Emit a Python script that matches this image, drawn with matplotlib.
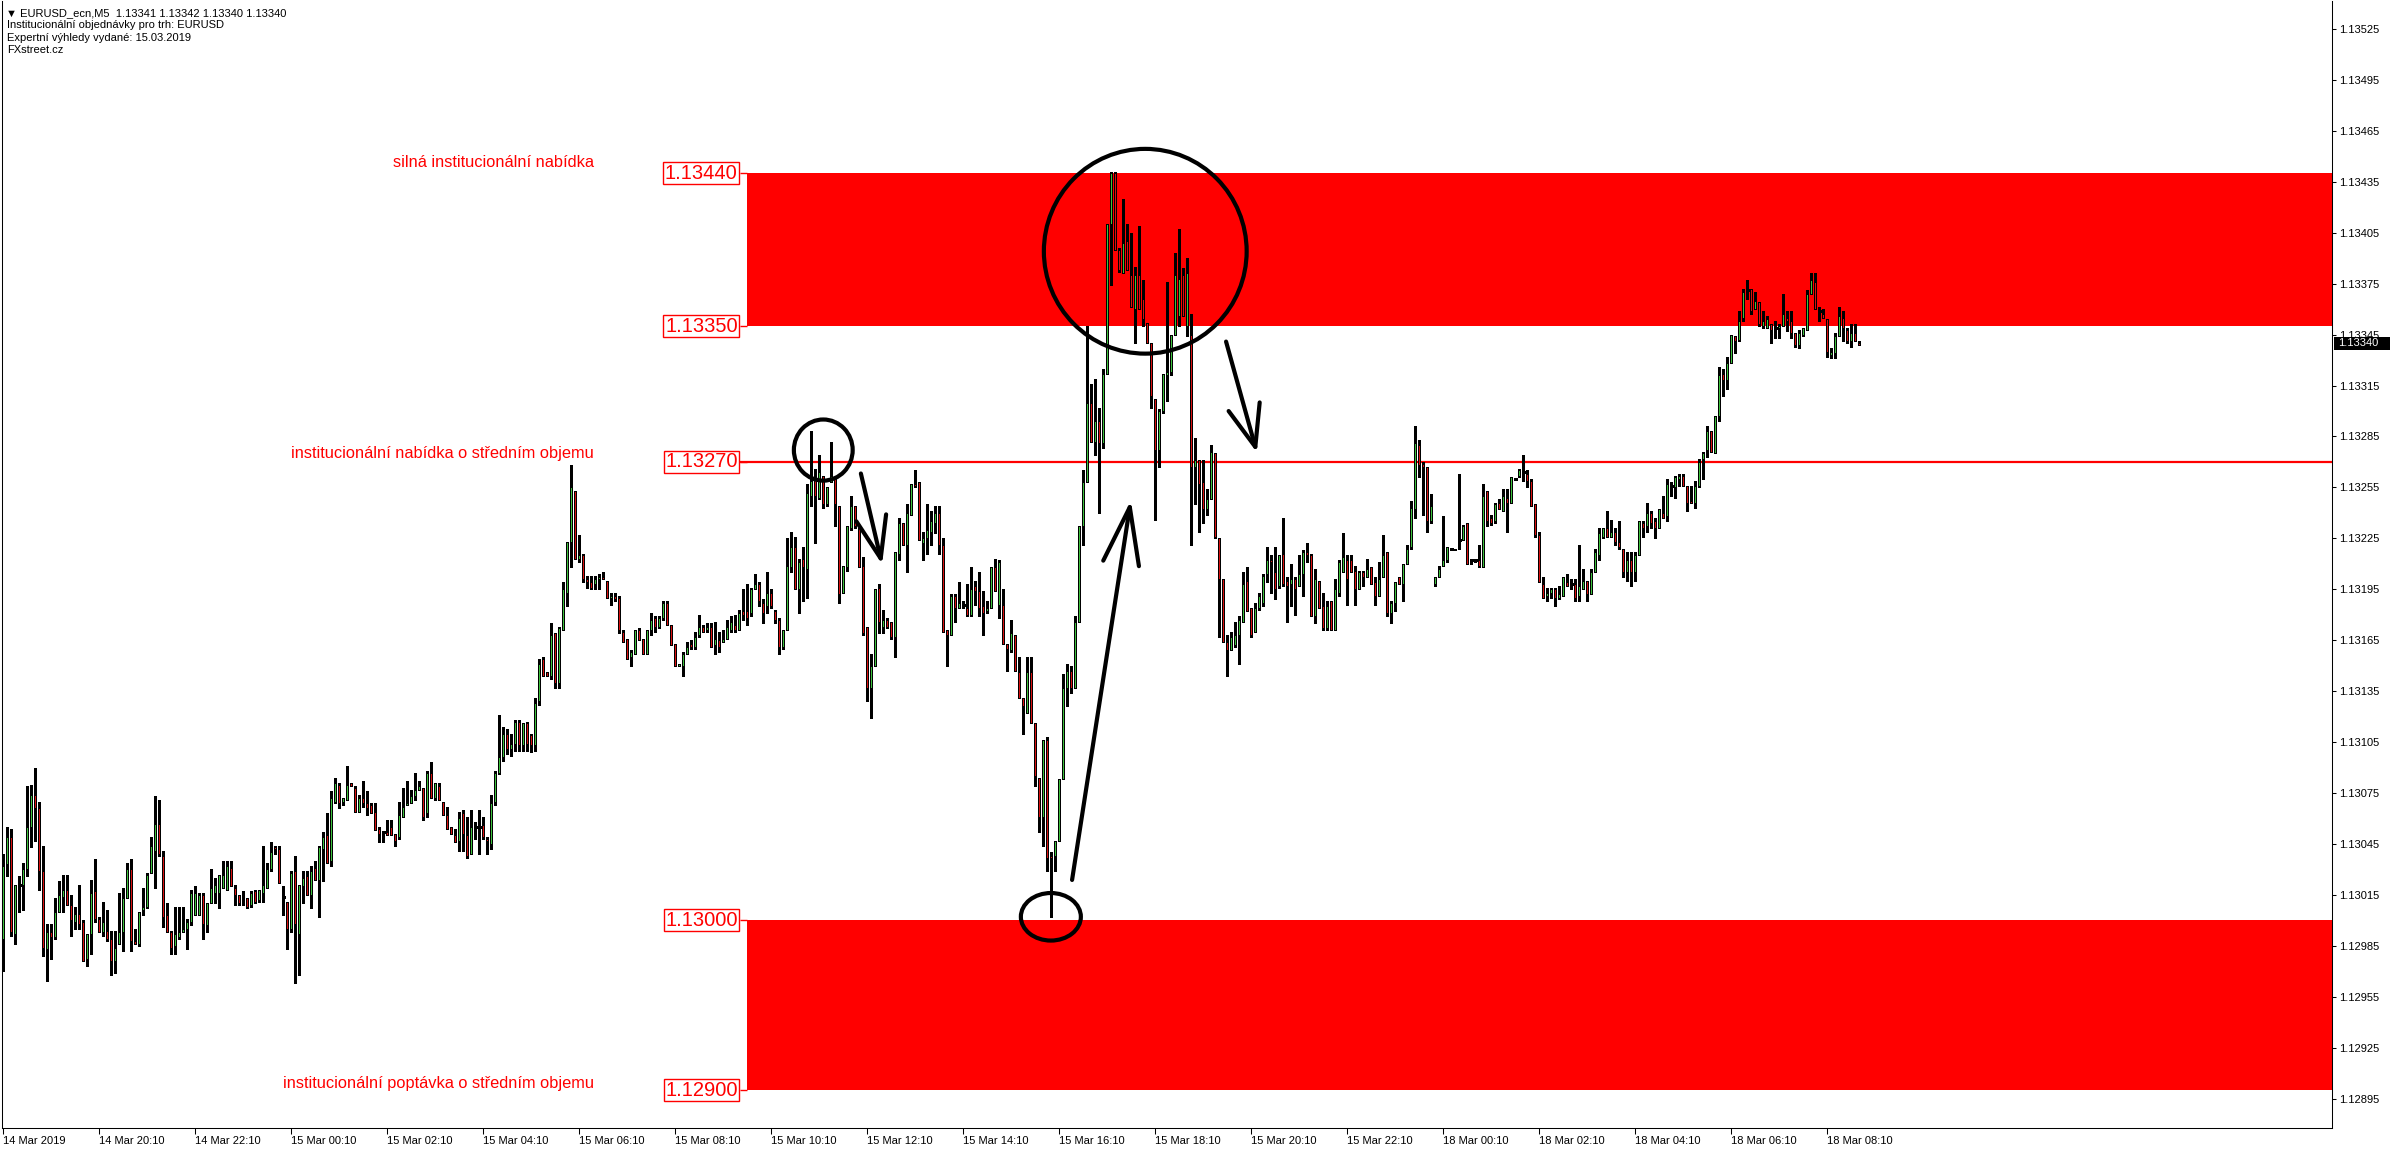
import matplotlib
matplotlib.use("Agg")
import matplotlib.pyplot as plt
import numpy as np
from matplotlib.patches import Ellipse, Rectangle
from matplotlib.transforms import blended_transform_factory

plt.rcParams["font.family"] = ["Liberation Sans", "DejaVu Sans"]

# EURUSD M5 candles, prices in points (0.00001) above 1.13000
BASE = 1.13
opens = [
    -11, 33, 49, -8, 21, 21, 30, 55, 74, 66, 29, -17, -7, -10, 5, 14, 18, 9, -1, 4,
    -1, -23, -8, 17, 1, -7, -6, -11, -24, -14, -7, 13, 30, -12, -14, 6, 8, 28, 41, 57,
    38, 3, -7, -15, -10, -7, -5, -1, 3, 3, 15, -3, 10, 16, 16, 19, 18, 31, 19, 15,
    13, 13, 9, 17, 12, 16, 19, 30, 43, 42, 14, 11, -5, 29, -8, 20, 26, 15, 31, 24,
    42, 50, 35, 70, 80, 70, 71, 81, 78, 64, 72, 69, 68, 64, 54, 52, 52, 55, 51, 49,
    61, 68, 69, 73, 77, 78, 63, 87, 72, 79, 70, 62, 55, 50, 47, 63, 50, 39, 55, 55,
    56, 48, 45, 70, 87, 96, 110, 101, 104, 117, 103, 116, 109, 103, 129, 154, 146, 144, 169, 140,
    171, 193, 223, 253, 213, 215, 201, 199, 198, 201, 202, 200, 190, 191, 190, 170, 166, 155, 157, 171,
    166, 157, 171, 178, 173, 178, 187, 174, 163, 150, 150, 157, 163, 161, 168, 173, 171, 173, 162, 165,
    164, 166, 171, 174, 171, 182, 182, 181, 195, 198, 187, 185, 193, 182, 177, 161, 171, 208, 220, 195,
    213, 207, 250, 261, 249, 262, 245, 258, 260, 244, 193, 208, 231, 244, 231, 209, 173, 137, 150, 196,
    173, 177, 176, 167, 216, 234, 221, 239, 257, 258, 222, 225, 229, 234, 240, 221, 171, 168, 191, 184,
    186, 184, 180, 197, 194, 185, 182, 184, 208, 186, 186, 163, 159, 168, 146, 131, 122, 146, 116, 84,
    61, 106, 38, 38, 47, 83, 137, 147, 137, 176, 232, 258, 305, 282, 294, 281, 322, 410, 440, 395,
    381, 400, 380, 360, 380, 366, 352, 340, 307, 277, 300, 321, 323, 345, 356, 380, 350, 345, 267, 271,
    258, 242, 248, 275, 225, 201, 164, 159, 162, 168, 176, 200, 184, 170, 184, 187, 204, 212, 205, 197,
    216, 200, 198, 201, 197, 204, 217, 215, 179, 200, 185, 172, 188, 171, 193, 205, 212, 212, 206, 195,
    205, 202, 208, 199, 191, 202, 217, 181, 187, 202, 198, 210, 220, 242, 280, 269, 267, 235, 198, 202,
    209, 212, 219, 219, 224, 224, 234, 212, 212, 212, 208, 253, 237, 235, 246, 241, 249, 246, 260, 262,
    264, 263, 259, 245, 227, 198, 191, 193, 195, 190, 191, 199, 198, 198, 191, 195, 200, 192, 205, 215,
    226, 231, 226, 229, 223, 219, 205, 212, 205, 215, 234, 232, 240, 235, 231, 240, 238, 256, 255, 260,
    262, 256, 247, 246, 256, 272, 277, 288, 275, 297, 322, 318, 328, 344, 342, 355, 371, 372, 360, 364,
    350, 349, 351, 349, 349, 350, 355, 353, 346, 339, 345, 348, 369, 376, 359, 357, 354, 333, 334, 344,
    355, 348, 341, 346, 340,
]
highs = [
    39, 55, 54, 21, 26, 34, 79, 80, 90, 70, 44, -2, -2, 13, 23, 27, 27, 15, 8, 21,
    0, -8, 24, 36, 2, 11, 6, -6, -6, 16, 19, 34, 36, -5, 5, 19, 28, 49, 73, 71,
    41, 10, -6, 8, 8, 8, 1, 18, 20, 16, 16, 10, 30, 25, 27, 35, 35, 35, 21, 15,
    17, 13, 17, 18, 18, 44, 34, 46, 44, 44, 20, 11, 29, 38, 21, 29, 29, 32, 35, 44,
    52, 63, 76, 84, 81, 72, 91, 81, 79, 74, 82, 76, 69, 69, 55, 52, 59, 59, 51, 70,
    78, 82, 77, 87, 82, 78, 88, 93, 81, 81, 70, 67, 55, 54, 64, 65, 61, 65, 58, 65,
    61, 49, 74, 88, 121, 114, 113, 110, 118, 118, 116, 117, 110, 131, 154, 155, 146, 175, 169, 173,
    199, 223, 268, 253, 227, 216, 203, 203, 203, 204, 205, 200, 193, 193, 191, 171, 166, 159, 171, 172,
    166, 171, 181, 179, 179, 188, 188, 174, 163, 151, 158, 164, 165, 170, 180, 174, 175, 175, 176, 170,
    171, 177, 179, 180, 183, 195, 198, 196, 204, 199, 189, 205, 195, 183, 178, 171, 225, 229, 226, 213,
    220, 257, 288, 266, 274, 262, 255, 282, 260, 244, 209, 232, 250, 244, 231, 214, 173, 157, 195, 198,
    183, 178, 176, 217, 237, 234, 245, 257, 265, 258, 229, 245, 241, 244, 244, 225, 171, 192, 192, 199,
    188, 198, 208, 200, 205, 194, 188, 208, 213, 212, 195, 163, 177, 168, 155, 131, 155, 155, 116, 84,
    106, 108, 40, 47, 83, 145, 151, 150, 179, 232, 265, 350, 316, 319, 302, 325, 410, 441, 441, 396,
    425, 410, 405, 385, 409, 377, 352, 340, 307, 301, 322, 376, 345, 393, 407, 384, 390, 357, 284, 271,
    271, 254, 280, 275, 225, 201, 168, 170, 176, 179, 205, 208, 184, 187, 193, 204, 220, 215, 220, 215,
    237, 202, 210, 202, 215, 218, 222, 216, 207, 200, 193, 188, 188, 201, 212, 228, 215, 215, 209, 206,
    206, 213, 208, 202, 211, 227, 217, 188, 199, 202, 210, 221, 247, 291, 283, 270, 267, 251, 202, 209,
    238, 220, 219, 219, 263, 233, 234, 212, 212, 221, 257, 253, 239, 246, 248, 254, 254, 261, 260, 266,
    274, 265, 260, 245, 229, 202, 196, 196, 196, 197, 202, 204, 201, 201, 221, 207, 200, 207, 219, 231,
    231, 241, 236, 231, 235, 219, 217, 217, 217, 235, 235, 246, 241, 237, 242, 250, 260, 258, 262, 263,
    263, 256, 256, 259, 272, 276, 291, 288, 297, 326, 325, 332, 345, 344, 359, 372, 377, 372, 370, 364,
    359, 356, 351, 353, 351, 369, 359, 359, 346, 348, 349, 371, 381, 381, 361, 360, 354, 337, 346, 361,
    359, 349, 351, 351, 341,
]
lows = [
    -30, 26, -9, -14, 5, 6, 26, 43, 47, 18, -21, -36, -23, -11, 5, 5, 9, -9, -5, -5,
    -24, -27, -20, -1, -7, -9, -12, -32, -31, -14, -18, 13, -18, -14, -15, 3, 7, 28, 19, 38,
    -4, -7, -20, -20, -11, -7, -17, -3, 3, 3, -11, -7, 10, 10, 7, 19, 18, 20, 9, 9,
    9, 7, 8, 10, 11, 11, 19, 29, 39, 22, 3, -17, -7, -37, -32, 10, 15, 7, 24, 2,
    23, 34, 32, 69, 66, 68, 71, 79, 64, 64, 67, 62, 63, 53, 46, 46, 50, 50, 44, 48,
    61, 68, 69, 71, 77, 59, 61, 72, 71, 71, 62, 54, 51, 46, 41, 41, 37, 39, 48, 39,
    48, 39, 42, 68, 86, 94, 98, 97, 100, 100, 100, 100, 99, 100, 127, 144, 144, 142, 137, 137,
    171, 185, 208, 213, 211, 199, 196, 195, 195, 195, 201, 190, 186, 188, 169, 164, 154, 150, 157, 165,
    157, 157, 168, 170, 172, 177, 174, 162, 150, 150, 144, 157, 160, 160, 167, 170, 170, 161, 157, 158,
    164, 166, 170, 170, 171, 177, 174, 179, 195, 185, 175, 181, 184, 175, 157, 160, 171, 205, 195, 181,
    188, 190, 244, 222, 248, 243, 244, 258, 232, 187, 193, 206, 230, 231, 208, 168, 129, 119, 150, 169,
    169, 172, 166, 155, 212, 221, 205, 239, 255, 224, 212, 216, 221, 228, 216, 170, 150, 168, 176, 184,
    184, 179, 179, 186, 179, 168, 181, 184, 194, 178, 163, 147, 158, 147, 131, 110, 122, 116, 79, 52,
    44, 29, 2, 29, 47, 83, 126, 134, 137, 176, 221, 258, 282, 274, 240, 278, 322, 374, 395, 382,
    381, 383, 361, 340, 360, 350, 340, 302, 236, 267, 299, 306, 321, 345, 350, 356, 344, 221, 245, 229,
    234, 239, 248, 225, 167, 164, 144, 159, 161, 151, 176, 182, 167, 170, 183, 185, 199, 193, 189, 196,
    197, 176, 185, 180, 197, 191, 211, 179, 175, 184, 171, 171, 171, 171, 191, 205, 186, 205, 186, 195,
    197, 202, 198, 186, 191, 202, 179, 175, 182, 198, 188, 210, 219, 237, 261, 239, 229, 234, 197, 202,
    209, 211, 219, 218, 219, 224, 210, 210, 211, 208, 208, 232, 233, 234, 242, 241, 229, 246, 260, 261,
    259, 255, 244, 226, 199, 190, 188, 190, 185, 189, 191, 197, 195, 188, 188, 195, 188, 192, 205, 212,
    225, 226, 226, 221, 219, 202, 200, 197, 200, 215, 226, 229, 231, 225, 231, 237, 235, 250, 249, 256,
    256, 241, 246, 243, 255, 260, 273, 276, 275, 294, 309, 313, 328, 334, 341, 353, 366, 357, 360, 350,
    349, 349, 340, 343, 343, 350, 347, 343, 338, 337, 344, 348, 369, 360, 353, 355, 332, 331, 331, 344,
    341, 340, 338, 341, 339,
]
closes = [
    32, 49, -7, 21, 21, 30, 55, 74, 66, 29, -16, -7, -10, 5, 15, 18, 9, 0, 4, -2,
    -24, -8, 16, 1, -7, -1, -11, -24, -16, -7, 13, 30, -12, -14, 5, 8, 27, 44, 57, 39,
    2, -7, -16, -8, -7, -5, -1, 16, 16, 15, -2, 10, 19, 21, 27, 27, 32, 20, 15, 10,
    14, 8, 16, 11, 18, 21, 30, 40, 42, 22, 14, -5, 28, -2, 21, 25, 15, 29, 24, 43,
    49, 34, 72, 81, 69, 72, 80, 79, 64, 72, 69, 66, 63, 53, 51, 52, 50, 50, 47, 62,
    67, 69, 73, 77, 79, 61, 87, 72, 81, 71, 62, 54, 51, 46, 60, 51, 38, 55, 55, 55,
    49, 47, 69, 87, 96, 110, 101, 104, 117, 103, 116, 104, 103, 128, 151, 144, 144, 168, 140, 172,
    195, 223, 255, 213, 215, 201, 199, 196, 201, 202, 201, 190, 191, 189, 171, 164, 154, 158, 171, 165,
    157, 171, 177, 173, 178, 187, 174, 162, 150, 151, 157, 161, 161, 167, 173, 170, 173, 161, 166, 161,
    166, 173, 176, 171, 181, 180, 178, 195, 198, 188, 181, 193, 185, 177, 161, 171, 209, 220, 195, 211,
    208, 252, 259, 250, 264, 245, 255, 262, 245, 192, 209, 232, 244, 232, 208, 169, 137, 150, 195, 176,
    177, 173, 167, 217, 234, 221, 240, 257, 256, 224, 225, 230, 235, 240, 221, 170, 168, 191, 184, 187,
    186, 180, 195, 194, 184, 181, 184, 208, 194, 211, 163, 160, 169, 147, 131, 126, 146, 116, 85, 61,
    106, 37, 37, 47, 83, 137, 147, 137, 176, 232, 258, 305, 282, 294, 281, 322, 410, 440, 395, 383,
    399, 383, 361, 380, 360, 354, 340, 309, 277, 300, 322, 323, 345, 380, 378, 356, 381, 267, 271, 257,
    242, 248, 276, 226, 201, 164, 159, 167, 168, 177, 198, 182, 168, 184, 191, 203, 212, 211, 195, 215,
    198, 197, 201, 195, 204, 217, 215, 179, 201, 184, 172, 185, 171, 195, 211, 214, 201, 205, 195, 205,
    202, 207, 198, 191, 201, 215, 181, 187, 199, 198, 210, 219, 243, 281, 268, 267, 235, 244, 202, 207,
    212, 220, 219, 218, 224, 232, 210, 212, 212, 209, 250, 235, 234, 245, 242, 250, 246, 261, 260, 265,
    264, 259, 244, 227, 199, 190, 193, 195, 190, 192, 202, 197, 198, 190, 197, 200, 192, 205, 217, 228,
    231, 226, 229, 223, 220, 205, 212, 205, 215, 235, 231, 240, 234, 231, 242, 237, 257, 256, 261, 262,
    256, 246, 246, 256, 270, 275, 288, 276, 297, 321, 318, 328, 345, 341, 353, 370, 371, 359, 365, 351,
    353, 354, 348, 349, 350, 357, 353, 346, 339, 346, 349, 369, 377, 360, 359, 355, 335, 335, 344, 356,
    349, 341, 346, 341, 339,
]

time_labels = [
    "14 Mar 2019", "14 Mar 20:10", "14 Mar 22:10", "15 Mar 00:10", "15 Mar 02:10",
    "15 Mar 04:10", "15 Mar 06:10", "15 Mar 08:10", "15 Mar 10:10", "15 Mar 12:10",
    "15 Mar 14:10", "15 Mar 16:10", "15 Mar 18:10", "15 Mar 20:10", "15 Mar 22:10",
    "18 Mar 00:10", "18 Mar 02:10", "18 Mar 04:10", "18 Mar 06:10", "18 Mar 08:10",
]
bars_per_label = 24  # 2 hours of M5 bars

price_ticks = [
    1.12895, 1.12925, 1.12955, 1.12985, 1.13015, 1.13045, 1.13075, 1.13105,
    1.13135, 1.13165, 1.13195, 1.13225, 1.13255, 1.13285, 1.13315, 1.13345,
    1.13375, 1.13405, 1.13435, 1.13465, 1.13495, 1.13525,
]

# institutional order levels
strong_supply = (1.13350, 1.13440)
mid_supply = 1.13270
mid_demand = (1.12900, 1.13000)
level_labels = [1.13440, 1.13350, 1.13270, 1.13000, 1.12900]
zone_texts = [
    ("silná institucionální nabídka", 1.134462),
    ("institucionální nabídka o středním objemu", 1.13275),
    ("institucionální poptávka o středním objemu", 1.129038),
]
last_price = 1.13340
header = [
    "\u25BC EURUSD_ecn,M5  1.13341 1.13342 1.13340 1.13340",
    "Institucionální objednávky pro trh: EURUSD",
    "Expertní výhledy vydané: 15.03.2019",
    "FXstreet.cz",
]

GREEN = "#3CC03C"
RED = "#D81010"
ZONE = "#FF0000"

W, H = 2396, 1154
fig = plt.figure(figsize=(W / 100, H / 100), dpi=100)
ax = fig.add_axes([2 / W, (H - 1128) / H, 2330 / W, 1127 / H])

o = BASE + np.array(opens) / 1e5
h = BASE + np.array(highs) / 1e5
l = BASE + np.array(lows) / 1e5
c = BASE + np.array(closes) / 1e5
x = np.arange(len(c))

xmax = 582.2
ax.set_xlim(-0.33, xmax)
ax.set_ylim(1.128777, 1.135415)

# zones and levels
zone_start = 185.9
box_edge = 184.2
ax.add_patch(Rectangle((zone_start, strong_supply[0]), xmax - zone_start,
                       strong_supply[1] - strong_supply[0], color=ZONE, lw=0, zorder=1))
ax.add_patch(Rectangle((zone_start, mid_demand[0]), xmax - zone_start,
                       mid_demand[1] - mid_demand[0], color=ZONE, lw=0, zorder=1))
ax.hlines(mid_supply, box_edge, xmax, color=ZONE, lw=1.6, zorder=2)
ax.hlines(level_labels, box_edge, zone_start, color=ZONE, lw=1.0, zorder=2)
for lev in level_labels:
    ax.text(box_edge - 0.6, lev, f"{lev:.5f}", ha="right", va="center", color=ZONE,
            fontsize=14.5, zorder=6,
            bbox=dict(boxstyle="square,pad=0.08", fc="white", ec=ZONE, lw=1.0))
for txt, y in zone_texts:
    ax.text(147.7, y, txt, ha="right", va="center", color=ZONE, fontsize=11.8, zorder=6)

# candles
lo = np.minimum(l, np.minimum(o, c))
hi = np.maximum(h, np.maximum(o, c))
ax.vlines(x, lo, hi, color="black", lw=0.75, zorder=3, antialiased=False)
up = c > o
dn = c < o
eq = c == o
ax.bar(x[up], (c - o)[up], bottom=o[up], width=0.55, color=GREEN,
       edgecolor="black", linewidth=0.72, zorder=4, antialiased=False)
ax.bar(x[dn], (o - c)[dn], bottom=c[dn], width=0.55, color=RED,
       edgecolor="black", linewidth=0.72, zorder=4, antialiased=False)
ax.hlines(c[eq], x[eq] - 0.4, x[eq] + 0.4, color="black", lw=0.75, zorder=4,
          antialiased=False)

# hand drawn marks
for cx, cy, ew, eh in [(205, 1.13277, 14.7, 0.00036),
                       (285.5, 1.133941, 50.7, 0.001206),
                       (261.9, 1.130021, 15, 0.00028)]:
    ax.add_patch(Ellipse((cx, cy), ew, eh, fill=False, ec="black", lw=3.0, zorder=7))

arrows = [((214.4, 1.132632), (219.7, 1.132097), 1.5, 0.55),
          ((267.2, 1.130238), (281.9, 1.132474), 2.05, 0.65),
          ((305.7, 1.133409), (313.4, 1.132756), 1.5, 0.58)]
for tail, tip, hl, hw in arrows:
    ax.annotate("", xy=tip, xytext=tail, zorder=7,
                arrowprops=dict(arrowstyle=f"->,head_length={hl},head_width={hw}",
                                mutation_scale=20, lw=3.0, color="black",
                                shrinkA=0, shrinkB=0, capstyle="round", joinstyle="round"))

# axes styling
for side in ["left", "right", "bottom"]:
    ax.spines[side].set_linewidth(0.75)
ax.spines["top"].set_visible(False)

ax.yaxis.tick_right()
ax.set_yticks(price_ticks)
ax.set_yticklabels([f"{p:.5f}" for p in price_ticks], fontsize=8)
ax.tick_params(axis="y", direction="out", length=3, width=0.75, pad=2)

ax.set_xticks(np.arange(len(time_labels)) * bars_per_label)
ax.set_xticklabels(time_labels, fontsize=8, ha="left")
ax.tick_params(axis="x", direction="out", length=4, width=0.75, pad=2)

# last price tag
tr = blended_transform_factory(ax.transAxes, ax.transData)
ax.add_patch(Rectangle((1 + 2 / 2330, last_price - 0.000038), 56 / 2330, 0.000076,
                       transform=tr, clip_on=False, fc="black", ec="none", zorder=10))
ax.text(1 + 6 / 2330, last_price, f"{last_price:.5f}", transform=tr, color="white",
        fontsize=8, va="center", ha="left", zorder=11, clip_on=False)

# header text
fig.text(6 / W, 1 - 13 / H, header[0], fontsize=8, va="center", ha="left")
for i, line in enumerate(header[1:]):
    fig.text(7 / W, 1 - (25.5 + 12.4 * i) / H, line, fontsize=8, va="center", ha="left")

fig.savefig("out.png", dpi=100, facecolor="white")
